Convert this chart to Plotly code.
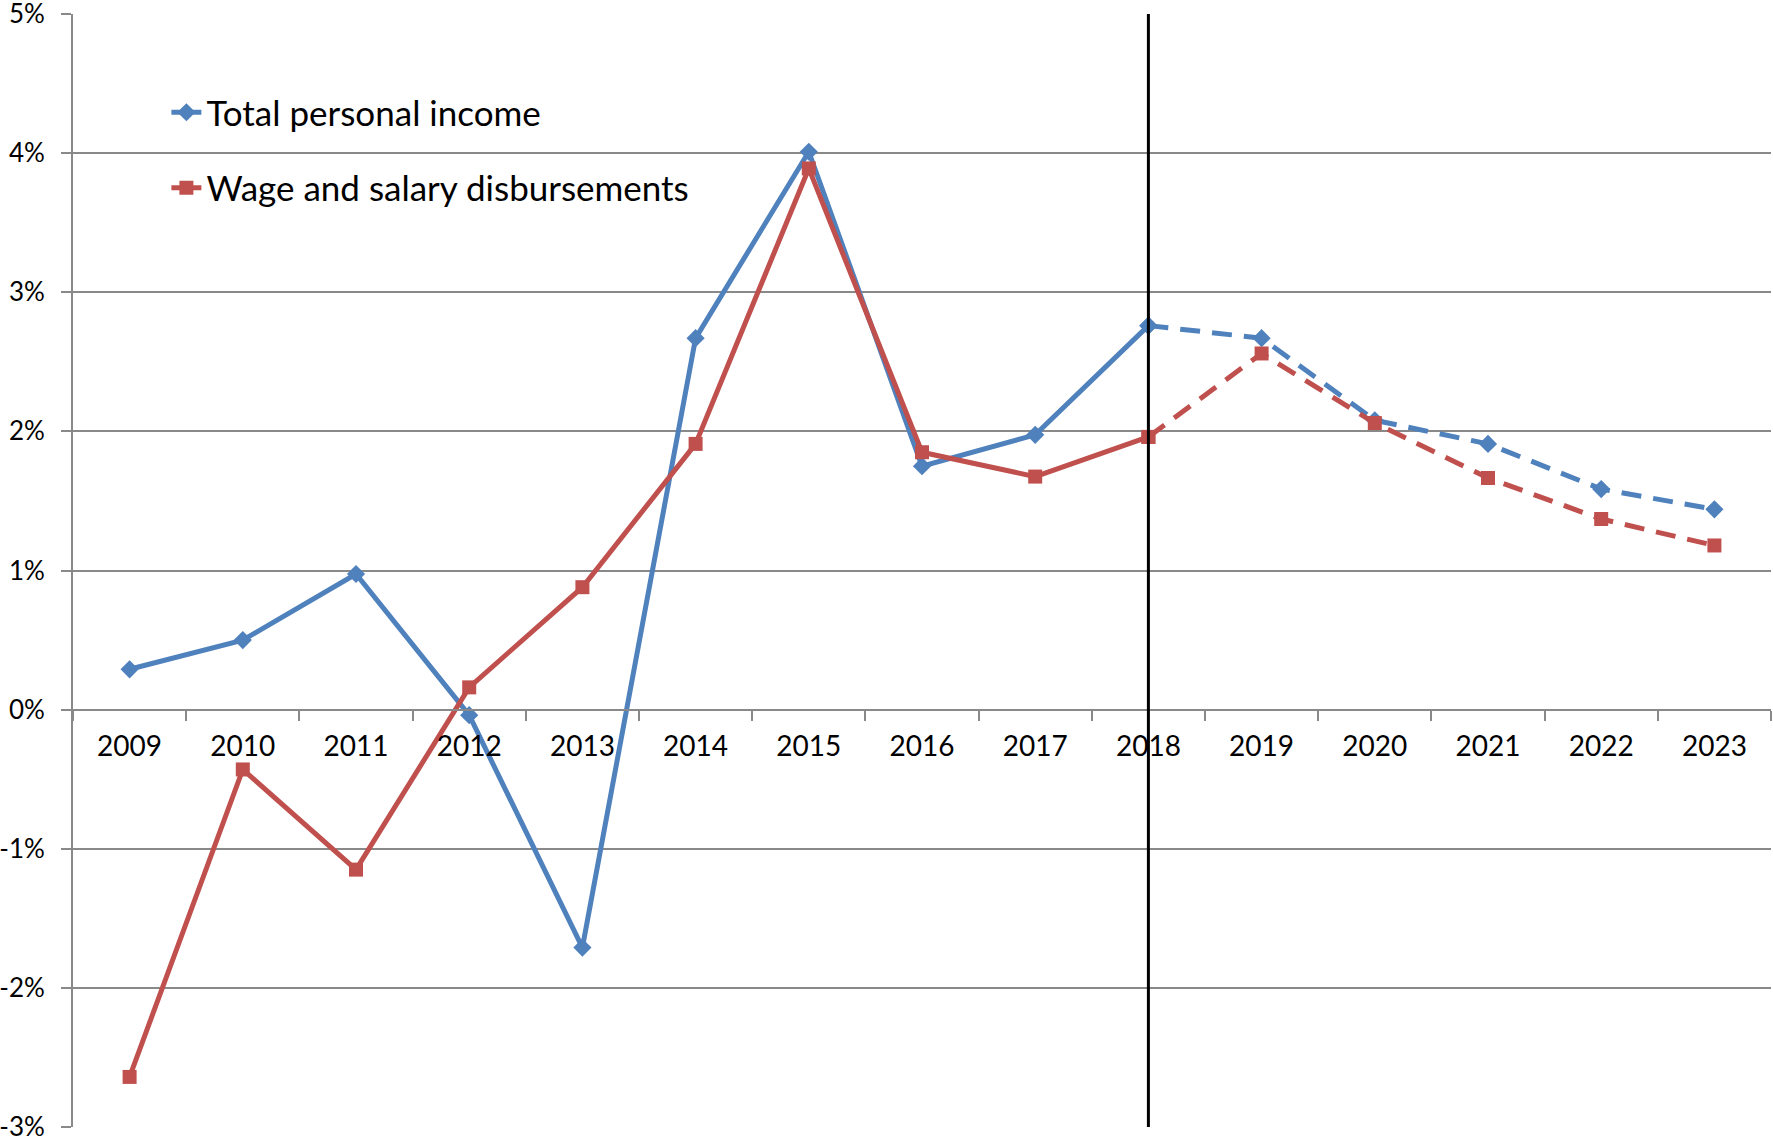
import plotly.graph_objects as go

years = [str(y) for y in range(2009, 2024)]
total_income = [0.29, 0.50, 0.975, -0.04, -1.71, 2.67, 4.01, 1.75, 1.975, 2.76,
                2.67, 2.08, 1.91, 1.585, 1.44]
wages = [-2.64, -0.43, -1.15, 0.16, 0.88, 1.91, 3.89, 1.85, 1.675, 1.96,
         2.56, 2.06, 1.665, 1.37, 1.18]
split = 9  # 2018: last actual year, forecast after
y_ticks = [-3, -2, -1, 0, 1, 2, 3, 4, 5]
y_labels = ["-3%", "-2%", "-1%", "0%", "1%", "2%", "3%", "4%", "5%"]
y_min, y_max = y_ticks[0], y_ticks[-1]

BLUE = "#4F81BD"
RED = "#C0504D"
GRID = "#898989"
FONT = "Lato, Carlito, Calibri, sans-serif"

fig = go.Figure()
for name, vals, color, symbol, msize, grp in [
    ("Total personal income", total_income, BLUE, "diamond", 14, "a"),
    ("Wage and salary disbursements", wages, RED, "square", 14, "b"),
]:
    fig.add_trace(go.Scatter(
        x=years[:split + 1], y=vals[:split + 1], name=name,
        mode="lines+markers", legendgroup=grp,
        line=dict(color=color, width=5),
        marker=dict(symbol=symbol, size=msize, color=color),
    ))
    fig.add_trace(go.Scatter(
        x=years[split:], y=vals[split:], name=name, showlegend=False,
        mode="lines+markers", legendgroup=grp,
        line=dict(color=color, width=5, dash="20px,12px"),
        marker=dict(symbol=symbol, size=msize, color=color),
    ))

# divider between actuals and forecast
fig.add_shape(type="line", xref="x", yref="paper",
              x0=split, x1=split, y0=0, y1=1,
              line=dict(color="black", width=3), layer="above")

fig.update_layout(
    width=1773, height=1140,
    margin=dict(l=73, r=2, t=14, b=13, autoexpand=False),
    paper_bgcolor="white", plot_bgcolor="white",
    font=dict(family=FONT, size=28, color="black"),
    showlegend=True,
    legend=dict(
        x=0.055, y=0.938, xanchor="left", yanchor="top",
        bgcolor="rgba(0,0,0,0)", font=dict(size=35),
        traceorder="grouped", tracegroupgap=27,
    ),
    xaxis=dict(
        type="category", range=[-0.5, len(years) - 0.5], automargin=False,
        anchor="free", position=(0 - y_min) / (y_max - y_min),
        showgrid=False, showline=True, linecolor=GRID, linewidth=2,
        ticks="outside", tickson="boundaries", ticklen=10,
        tickcolor=GRID, tickwidth=2, ticklabelstandoff=12,
    ),
    yaxis=dict(
        range=[y_min, y_max], tickvals=y_ticks, ticktext=y_labels,
        automargin=False, ticklabeloverflow="allow",
        showgrid=True, gridcolor=GRID, gridwidth=2,
        zeroline=False, showline=True, linecolor=GRID, linewidth=2,
        ticks="outside", ticklen=10, tickcolor=GRID, tickwidth=2,
        ticklabelstandoff=11, tickfont=dict(size=26),
    ),
)

# drop the default page margin so the figure sits at the window's corner
fig.write_html("out.html", config={"displayModeBar": False},
               post_script="document.body.style.margin = '0';")
